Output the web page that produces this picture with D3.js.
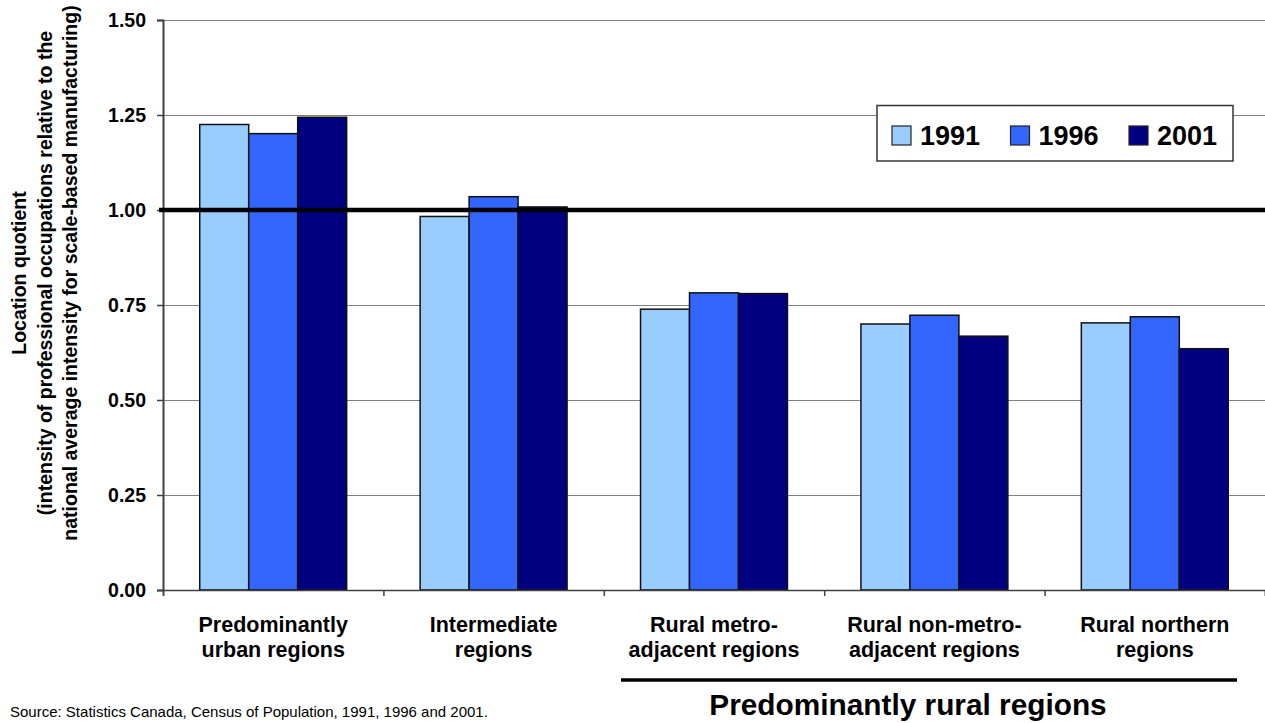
<!DOCTYPE html>
<html>
<head>
<meta charset="utf-8">
<script src="https://cdn.jsdelivr.net/npm/d3@7"></script>
<style>
  html, body { margin: 0; padding: 0; background: #ffffff; }
  svg { display: block; }
  text { font-family: "Liberation Sans", Arial, Helvetica, sans-serif; }
</style>
</head>
<body>
<svg id="chart" width="1265" height="723"></svg>
<script>
// Region types and location quotients by census year
const categories = [
  ["Predominantly", "urban regions"],
  ["Intermediate", "regions"],
  ["Rural metro-", "adjacent regions"],
  ["Rural non-metro-", "adjacent regions"],
  ["Rural northern", "regions"]
];
const years = ["1991", "1996", "2001"];
const values1991 = [1.225, 0.983, 0.739, 0.700, 0.703];
const values1996 = [1.201, 1.035, 0.782, 0.723, 0.719];
const values2001 = [1.244, 1.008, 0.780, 0.668, 0.635];
const yTicks = [0, 0.25, 0.50, 0.75, 1.00, 1.25, 1.50];
const referenceValue = 1.0;
const yTitleLines = [
  "Location quotient",
  "(intensity of professional occupations relative to the",
  "national average intensity for scale-based manufacturing)"
];
const groupTitle = "Predominantly rural regions";
const sourceNote = "Source: Statistics Canada, Census of Population, 1991, 1996 and 2001.";

const seriesValues = [values1991, values1996, values2001];
const colors = ["#99CCFF", "#3366FF", "#000080"];

const svg = d3.select("#chart");
const plotLeft = 163, plotRight = 1265, plotTop = 20, plotBottom = 590;

const catIdx = d3.range(categories.length);
const x0 = d3.scaleBand().domain(catIdx).range([plotLeft, plotRight]).paddingInner(0).paddingOuter(0);
const x1 = d3.scaleBand().domain(years).range([0, x0.bandwidth()]).paddingInner(0).paddingOuter(0.75);
const xEdge = d3.scaleLinear().domain([0, categories.length]).range([plotLeft, plotRight]);
const y = d3.scaleLinear().domain([0, 1.5]).range([plotBottom, plotTop]);

// horizontal gridlines
const grid = svg.append("g").attr("transform", `translate(${plotLeft},0)`)
  .call(d3.axisLeft(y).tickValues(yTicks.filter(v => v > 0)).tickSize(-(plotRight - plotLeft)).tickFormat(""));
grid.select(".domain").remove();
grid.selectAll(".tick line").attr("stroke", "#808080").attr("stroke-width", 1);

// bars
const table = catIdx.map(i => years.map((yr, s) => ({ cat: i, year: yr, s, value: seriesValues[s][i] })));
svg.append("g").selectAll("g").data(table).join("g")
  .attr("transform", d => `translate(${x0(d[0].cat)},0)`)
  .selectAll("rect").data(d => d).join("rect")
    .attr("x", d => x1(d.year))
    .attr("y", d => y(d.value))
    .attr("width", x1.bandwidth())
    .attr("height", d => y(0) - y(d.value))
    .attr("fill", d => colors[d.s])
    .attr("stroke", "#111")
    .attr("stroke-width", 1.5);

// y axis
const yAxis = svg.append("g").attr("transform", `translate(${plotLeft},0)`)
  .call(d3.axisLeft(y).tickValues(yTicks).tickSize(6).tickPadding(11).tickFormat(d3.format(".2f")));
yAxis.select(".domain").attr("stroke", "#404040").attr("stroke-width", 2);
yAxis.selectAll(".tick line").attr("stroke", "#404040").attr("stroke-width", 1.5);
yAxis.selectAll(".tick text")
  .attr("font-size", 19.5).attr("font-weight", "bold").attr("fill", "#000")
  .style("font-family", "'Liberation Sans', Arial, sans-serif");

// x axis with boundary ticks
const xAxis = svg.append("g").attr("transform", `translate(0,${plotBottom})`)
  .call(d3.axisBottom(xEdge).tickValues(d3.range(categories.length + 1)).tickSize(6).tickFormat(""));
xAxis.select(".domain").attr("stroke", "#404040").attr("stroke-width", 1.5);
xAxis.selectAll(".tick line").attr("stroke", "#404040").attr("stroke-width", 1.5);

// category labels
const labels = svg.append("g").selectAll("text").data(catIdx).join("text")
  .attr("text-anchor", "middle")
  .attr("font-size", 21.5).attr("font-weight", "bold").attr("fill", "#000");
labels.selectAll("tspan").data(i => categories[i].map(t => ({ t, i }))).join("tspan")
  .attr("x", d => x0(d.i) + x0.bandwidth() / 2)
  .attr("y", (d, k) => 632 + k * 25)
  .text(d => d.t);

// reference line at 1.00
svg.append("line")
  .attr("x1", plotLeft - 4).attr("x2", plotRight)
  .attr("y1", y(referenceValue)).attr("y2", y(referenceValue))
  .attr("stroke", "#000").attr("stroke-width", 4.5);

// y axis title
const yTitle = svg.append("text")
  .attr("transform", "translate(0,273) rotate(-90)")
  .attr("text-anchor", "middle")
  .attr("font-size", 19.5).attr("font-weight", "bold").attr("fill", "#000");
yTitle.selectAll("tspan").data(yTitleLines).join("tspan")
  .attr("x", 0)
  .attr("y", (d, k) => 26 + k * 25.5)
  .text(d => d);

// legend
const legend = svg.append("g");
legend.append("rect")
  .attr("x", 877).attr("y", 105.5).attr("width", 356).attr("height", 55.5)
  .attr("fill", "#fff").attr("stroke", "#333").attr("stroke-width", 1.5);
const items = legend.selectAll("g.item").data(years).join("g")
  .attr("class", "item")
  .attr("transform", (d, i) => `translate(${892 + i * 118.5},126)`);
items.append("rect")
  .attr("width", 19).attr("height", 19)
  .attr("fill", (d, i) => colors[i]).attr("stroke", "#222").attr("stroke-width", 1.2);
items.append("text")
  .attr("x", 28).attr("y", 19)
  .attr("font-size", 27).attr("font-weight", "bold").attr("fill", "#000")
  .text(d => d);

// grouping rule and title under the rural categories
svg.append("line")
  .attr("x1", 621).attr("x2", 1237).attr("y1", 680).attr("y2", 680)
  .attr("stroke", "#000").attr("stroke-width", 3.5);
svg.append("text")
  .attr("x", 908).attr("y", 715)
  .attr("text-anchor", "middle")
  .attr("font-size", 29.8).attr("font-weight", "bold").attr("fill", "#000")
  .text(groupTitle);

// source note
svg.append("text")
  .attr("x", 10).attr("y", 717)
  .attr("font-size", 15).attr("fill", "#000")
  .text(sourceNote);
</script>
</body>
</html>
